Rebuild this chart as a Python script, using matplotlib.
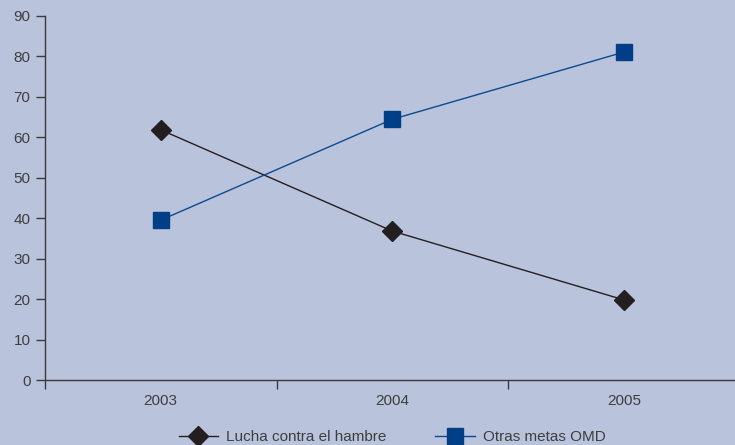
import matplotlib.pyplot as plt
import matplotlib

years = ['2003', '2004', '2005']
hambre = [61.8, 36.8, 19.8]
otras = [39.5, 64.4, 81.0]
labels = ['Lucha contra el hambre', 'Otras metas OMD']

bg = '#bac3dc'
axis_col = '#3a3a3a'
text_col = '#3e3e3e'

matplotlib.rcParams['font.family'] = ['Liberation Sans', 'DejaVu Sans']
matplotlib.rcParams['font.size'] = 11

W, H = 735, 445
fig = plt.figure(figsize=(W / 100, H / 100), dpi=100, facecolor=bg)
left, right = 45, 739.5
top, bottom = 15.7, 380
ax = fig.add_axes([left / W, 1 - bottom / H, (right - left) / W, (bottom - top) / H])
ax.set_facecolor(bg)

x = range(len(years))
ax.plot(x, hambre, color='#231f20', lw=1, marker='D', ms=10,
        mfc='#231f20', mec='#231f20', label=labels[0], clip_on=False, zorder=3)
ax.plot(x, otras, color='#0b4a8e', lw=1, marker='s', ms=11,
        mfc='#003f87', mec='#003f87', label=labels[1], clip_on=False, zorder=3)

ax.set_xlim(-0.5, 2.5)
ax.set_ylim(0, 90)
ax.set_yticks(range(0, 91, 10))
ax.set_xticks([-0.5, 0.5, 1.5, 2.5])
ax.set_xticklabels([])
ax.set_xticks(list(x), minor=True)
ax.set_xticklabels(years, minor=True)
ax.tick_params(axis='x', which='minor', length=0, pad=10, colors=text_col)
ax.tick_params(axis='x', which='major', direction='out', length=6.5, width=1, color=axis_col)
ax.tick_params(axis='y', direction='out', length=6.5, width=1, color=axis_col,
               labelcolor=text_col, pad=4)

for s in ['top', 'right']:
    ax.spines[s].set_visible(False)
for s in ['left', 'bottom']:
    ax.spines[s].set_color(axis_col)
    ax.spines[s].set_linewidth(1)

fig.legend(loc='center', bbox_to_anchor=(392 / W, 8 / H), ncol=2, frameon=False,
           handlelength=2.6, handletextpad=0.5, columnspacing=3.2,
           labelcolor=text_col, fontsize=11)

fig.savefig('out.png', dpi=100, facecolor=bg)
